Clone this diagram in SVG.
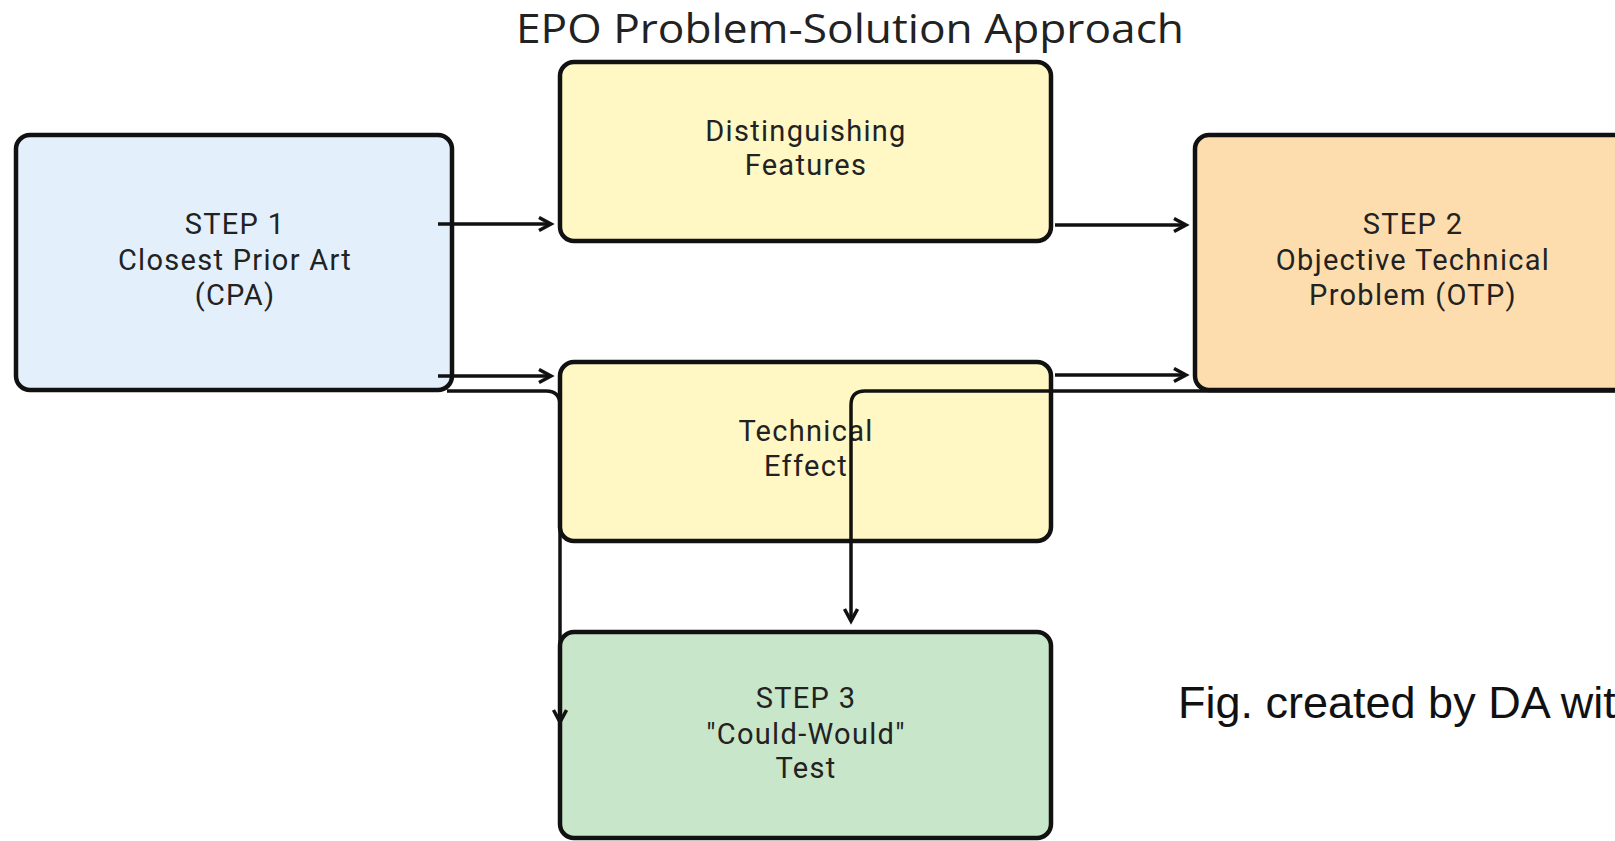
<svg xmlns="http://www.w3.org/2000/svg" width="1615" height="841" viewBox="0 0 1615 841">
<style>
.box{stroke:#111;stroke-width:4.5}
.lbl{font-family:Roboto,"Liberation Sans",sans-serif;font-size:29px;letter-spacing:1.3px;fill:#222;text-anchor:middle}
.conn{fill:none;stroke:#111;stroke-width:3.5}
</style>
<defs>
<marker id="arr" markerUnits="userSpaceOnUse" markerWidth="18" markerHeight="18" refX="14" refY="8" orient="auto">
<path d="M2,1.5 L14,8 L2,14.5" fill="none" stroke="#111" stroke-width="3.5"/>
</marker>
</defs>
<rect width="1615" height="841" fill="#fff"/>
<text x="850" y="43" font-family="'Open Sans',Roboto,'Liberation Sans',sans-serif" font-size="41" fill="#222" text-anchor="middle" textLength="668" lengthAdjust="spacingAndGlyphs">EPO Problem-Solution Approach</text>
<g id="step1">
<rect class="box" x="16" y="135" width="436" height="255" rx="14" fill="#E3F0FC"/>
<text class="lbl" x="235" y="234">STEP 1</text>
<text class="lbl" x="235" y="270">Closest Prior Art</text>
<text class="lbl" x="235" y="305">(CPA)</text>
</g>
<g id="distinguishing">
<rect class="box" x="560" y="62" width="491" height="179" rx="14" fill="#FFF8C4"/>
<text class="lbl" x="806" y="141">Distinguishing</text>
<text class="lbl" x="806" y="175">Features</text>
</g>
<g id="step2">
<rect class="box" x="1195" y="135" width="440" height="255" rx="14" fill="#FDDDAD"/>
<text class="lbl" x="1413" y="234">STEP 2</text>
<text class="lbl" x="1413" y="270">Objective Technical</text>
<text class="lbl" x="1413" y="305">Problem (OTP)</text>
</g>
<g id="technical">
<rect class="box" x="560" y="362" width="491" height="179" rx="14" fill="#FFF8C4"/>
<text class="lbl" x="806" y="441">Technical</text>
<text class="lbl" x="806" y="476">Effect</text>
</g>
<g id="step3">
<rect class="box" x="560" y="632" width="491" height="206" rx="14" fill="#C8E6C9"/>
<text class="lbl" x="806" y="708">STEP 3</text>
<text class="lbl" x="806" y="744">"Could-Would"</text>
<text class="lbl" x="806" y="778">Test</text>
</g>
<g id="connectors">
<path class="conn" d="M438,224 H551" marker-end="url(#arr)"/>
<path class="conn" d="M438,376 H551" marker-end="url(#arr)"/>
<path class="conn" d="M1055,225 H1186" marker-end="url(#arr)"/>
<path class="conn" d="M1055,375 H1186" marker-end="url(#arr)"/>
<path class="conn" d="M447,391 H546 Q560,391 560,405 V722" marker-end="url(#arr)"/>
<path class="conn" d="M1630,391 H865 Q851,391 851,405 V621" marker-end="url(#arr)"/>
</g>
<text x="1178" y="718" font-family="'Liberation Sans',Arial,sans-serif" font-size="45" fill="#111">Fig. created by DA wit</text>
</svg>
